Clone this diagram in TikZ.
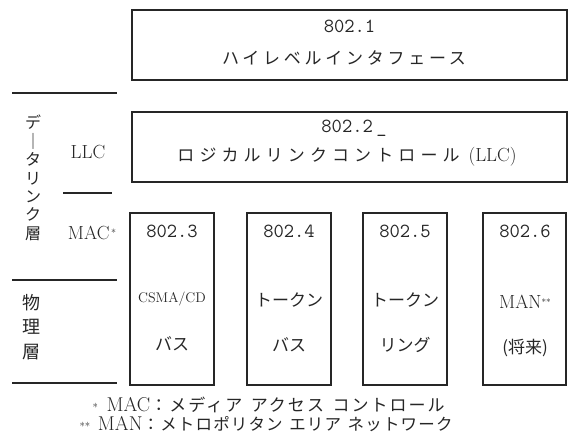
\documentclass[tikz,border=0pt]{standalone}
\usepackage{fontspec}
\newfontfamily\jp{Noto Sans CJK JP}
\newfontfamily\jpw[LetterSpace=22]{Noto Sans CJK JP}
\newfontfamily\jpww[LetterSpace=30]{Noto Sans CJK JP}
\newfontfamily\jpna[LetterSpace=12]{Noto Sans CJK JP}
\newfontfamily\jpnb[LetterSpace=7]{Noto Sans CJK JP}
\definecolor{ink}{HTML}{262626}
\begin{document}
\begin{tikzpicture}[x=1pt,y=-1pt,
  box/.style={draw=ink, line width=1.3pt, inner sep=0pt},
  sep/.style={draw=ink, line width=1.1pt},
  num/.style={text=ink, font=\fontsize{20}{20}\selectfont\ttfamily},
  jpt/.style={text=ink, font=\fontsize{17}{17}\selectfont\jp},
  jpwide/.style={text=ink, font=\fontsize{17}{17}\selectfont\jpw},
  lat/.style={text=ink, font=\fontsize{19}{19}\selectfont\rmfamily},
  note/.style={text=ink, anchor=west}]
\useasboundingbox (0,0) rectangle (570,444);
% upper boxes
\node[box, minimum width=435pt, minimum height=70pt] (hli) at (349.5,45) {};
\node[num] (n1) at (349.5,26) {802.1};
\node[jpwide] (t1) at (344,58) {ハイレベルインタフェース};
\node[box, minimum width=435pt, minimum height=70pt] (llc) at (349.5,147) {};
\node[num] (n2) at (354,128) {802.2\,\_};
\node[text=ink, font=\fontsize{17}{17}\selectfont\jpww] (t2) at (347,157) {ロジカルリンクコントロール {\rmfamily\fontsize{19}{19}\selectfont(LLC)}};
% MAC boxes
\node[box, minimum width=84pt, minimum height=172pt] (b3) at (172,299) {};
\node[box, minimum width=84pt, minimum height=172pt] (b4) at (289,299) {};
\node[box, minimum width=84pt, minimum height=172pt] (b5) at (405,299) {};
\node[box, minimum width=83pt, minimum height=172pt] (b6) at (524.5,299) {};
\node[num] (n3) at (172,231) {802.3};
\node[num] (n4) at (289,231) {802.4};
\node[num] (n5) at (405,231) {802.5};
\node[num] (n6) at (525,231) {802.6};
\node[text=ink, font=\fontsize{14}{14}\selectfont\rmfamily] (c3) at (172,299) {CSMA/CD};
\node[jpt] (d3) at (172,344) {バス};
\node[jpt] (c4) at (289,300) {トークン};
\node[jpt] (d4) at (289,345) {バス};
\node[jpt] (c5) at (405,300) {トークン};
\node[jpt] (d5) at (405,345) {リング};
\node[lat] (c6) at (525,302) {MAN\raisebox{.45ex}{\fontsize{9}{9}\selectfont**}};
\node[jpt] (d6) at (525,348) {(将来)};
% left labels
\draw[sep] (12,93) -- (117,93);
\draw[sep] (63,193) -- (112,193);
\draw[sep] (12,280) -- (117,280);
\draw[sep] (12,383) -- (117,383);
\node[text=ink, align=center, font=\fontsize{16}{18.4}\selectfont\jp] (dl) at (33,178)
  {デ\\｜\\タ\\リ\\ン\\ク\\層};
\node[lat] (lc) at (88,152) {LLC};
\node[lat] (mc) at (92,233) {MAC\raisebox{.4ex}{\fontsize{10}{10}\selectfont\,*}};
\node[text=ink, align=center, font=\fontsize{18}{24.5}\selectfont\jp] (ph) at (32,327)
  {物\\理\\層};
% footnotes
\node[note, font=\fontsize{17}{17}\selectfont\jpna] (f1) at (89,405)
  {{\rmfamily\fontsize{11}{11}\selectfont*}\, {\rmfamily\fontsize{20}{20}\selectfont MAC}：メディア\hspace{.5em}アクセス\hspace{.5em}コントロール};
\node[note, font=\fontsize{16.5}{16.5}\selectfont\jpnb] (f2) at (76,424)
  {{\rmfamily\fontsize{11}{11}\selectfont**}\, {\rmfamily\fontsize{20}{20}\selectfont MAN}：メトロポリタン\hspace{.4em}エリア\hspace{.4em}ネットワーク};
\end{tikzpicture}
\end{document}
